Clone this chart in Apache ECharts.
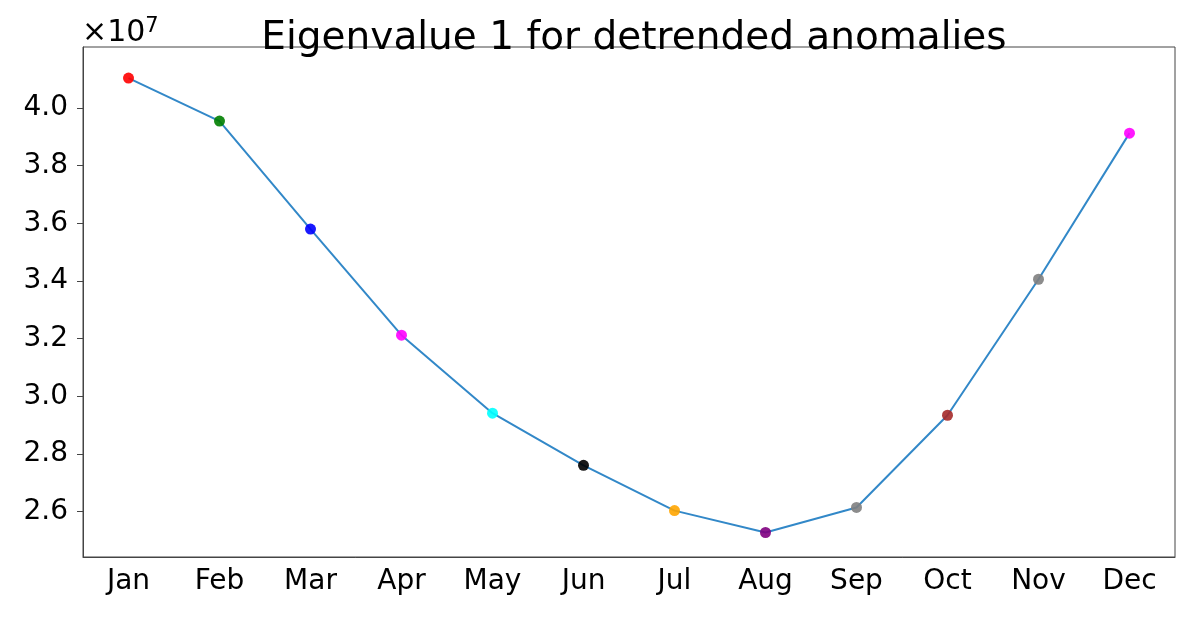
<!DOCTYPE html>
<html>
<head>
    <meta charset="UTF-8">
    <title>Eigenvalue 1</title>
    <script src="https://cdn.jsdelivr.net/npm/echarts@6/dist/echarts.min.js"></script>
    <style>
        html, body {margin: 0; padding: 0; background: #fff;}
    </style>
</head>
<body>
<div id="main" style="width: 1200px;height:618px;"></div>

<script>
    // months on the x axis
    var months = ['Jan', 'Feb', 'Mar', 'Apr', 'May', 'Jun', 'Jul', 'Aug', 'Sep', 'Oct', 'Nov', 'Dec'];
    // eigenvalue per month
    var eigenvalues = [41040000, 39550000, 35800000, 32120000, 29410000, 27600000,
        26030000, 25270000, 26140000, 29340000, 34060000, 39130000];
    var pointColors = ['#ff0000', '#008000', '#0000ff', '#ff00ff', '#00ffff', '#000000',
        '#ffa500', '#800080', '#808080', '#a52a2a', '#808080', '#ff00ff'];
    var yTicks = [26000000, 28000000, 30000000, 32000000, 34000000, 36000000, 38000000, 40000000];

    var myChart = echarts.init(document.getElementById('main'));

    var font = 'DejaVu Sans';

    var option = {
        backgroundColor: '#fff',
        animation: false,
        title: {
            text: 'Eigenvalue 1 for detrended anomalies',
            left: 629,
            textAlign: 'center',
            top: 14,
            textStyle: {fontFamily: font, fontSize: 39, fontWeight: 'normal', color: '#000'}
        },
        graphic: [{
            type: 'text',
            left: 82,
            top: 16,
            style: {
                text: '×10{sup|7}',
                fontFamily: font,
                fontSize: 30,
                fill: '#000',
                rich: {sup: {fontFamily: font, fontSize: 21, verticalAlign: 'top', padding: [0, 0, 14, 0]}}
            }
        }],
        grid: {
            left: 83,
            right: 25,
            top: 47,
            bottom: 61,
            show: true,
            borderColor: '#444',
            borderWidth: 1
        },
        xAxis: {
            type: 'category',
            data: months,
            boundaryGap: true,
            axisLine: {lineStyle: {color: '#444', width: 1}},
            axisTick: {alignWithLabel: true, length: 6, lineStyle: {color: '#444'}},
            axisLabel: {fontFamily: font, fontSize: 28, color: '#000', margin: 11, interval: 0},
            splitLine: {show: false}
        },
        yAxis: {
            type: 'value',
            min: 24420000,
            max: 42120000,
            axisLine: {show: true, lineStyle: {color: '#444', width: 1}},
            axisTick: {show: true, length: 6, lineStyle: {color: '#444'}, customValues: yTicks},
            axisLabel: {
                fontFamily: font, fontSize: 28, color: '#000', margin: 15,
                customValues: yTicks,
                formatter: function (v) { return (v / 1e7).toFixed(1); }
            },
            splitLine: {show: false}
        },
        series: [{
            type: 'line',
            data: eigenvalues.map(function (v, i) {
                return {value: v, itemStyle: {color: pointColors[i], opacity: 0.9}};
            }),
            symbol: 'circle',
            symbolSize: 11,
            showSymbol: true,
            lineStyle: {color: '#3288c8', width: 2},
            itemStyle: {borderWidth: 0}
        }]
    };

    myChart.setOption(option);
</script>
</body>
</html>
